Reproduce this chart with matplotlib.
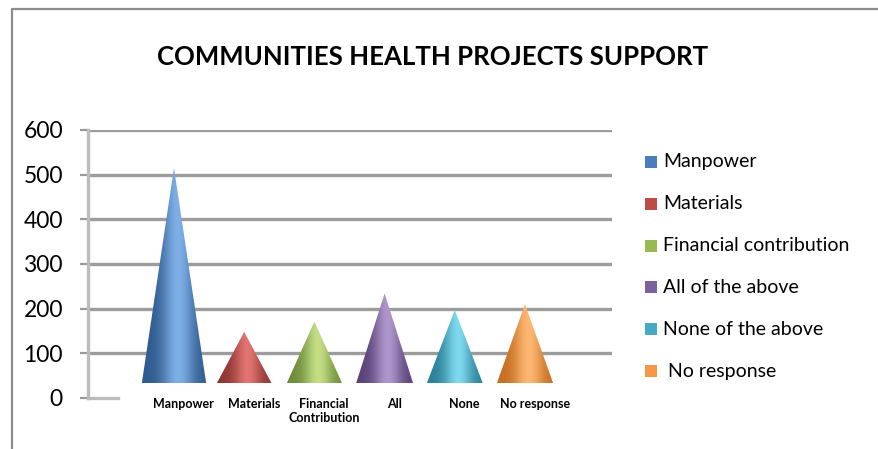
import numpy as np
import matplotlib.pyplot as plt
from matplotlib.patches import Polygon, Rectangle
from matplotlib.lines import Line2D
from matplotlib.colors import to_rgb

# data
categories = ['Manpower', 'Materials', 'Financial\nContribution', 'All', 'None', 'No response']
legend_labels = ['Manpower', 'Materials', 'Financial contribution', 'All of the above',
                 'None of the above', ' No response']
values = [515, 148, 171, 234, 197, 210]
yticks = [0, 100, 200, 300, 400, 500, 600]

# cone shading: (edge colour, highlight colour) and flat legend colour
dark = ['#2E5A8E', '#8E3532', '#6E8C38', '#5A4278', '#2A8098', '#C66E22']
light = ['#7DAEE6', '#E07470', '#C4DE86', '#AE96CC', '#7ED8EE', '#FDB772']
flat = ['#4A7EBB', '#BE4B48', '#98B954', '#7D60A0', '#46AAC5', '#F79646']

FONT = 'Lato'
W, H = 879, 449
fig = plt.figure(figsize=(W / 100, H / 100), dpi=100)

# plot area in pixels: back wall from x=88..612, y=130 (600) .. 398 (0)
left, right, top, bottom = 88, 612, 130, 398
ax = fig.add_axes([left / W, 1 - bottom / H, (right - left) / W, (bottom - top) / H])
step = 70.2
x0 = 174
ax.set_xlim((left - x0) / step, (right - x0) / step)
ax.set_ylim(0, 600)
px_per_unit = (bottom - top) / 600

for s in ['top', 'right', 'bottom']:
    ax.spines[s].set_visible(False)
ax.spines['left'].set_color('#bcbcbc')
ax.spines['left'].set_linewidth(2.4)
ax.set_xticks([])
ax.set_yticks(yticks)
ax.set_yticklabels([str(v) for v in yticks], fontsize=16.5, family=FONT)
ax.tick_params(axis='y', length=6, width=1.6, color='#9a9a9a', pad=12)

for v in yticks[1:]:
    ax.axhline(v, color='#9c9c9c', lw=2.4, zorder=1)
# short floor edge at zero
ax.plot([(left - x0) / step, (118 - x0) / step], [0, 0], color='#bcbcbc', lw=2.4,
        clip_on=False, zorder=1)

# cones, seen slightly from the front so the base sits above the wall's zero
base = (bottom - 383) / px_per_unit
t = np.linspace(-1, 1, 200)
f = np.exp(-((t - 0.12) / 0.5) ** 2)
for i, v in enumerate(values):
    hw = 0.36 + 0.00019 * v
    d, l = np.array(to_rgb(dark[i])), np.array(to_rgb(light[i]))
    img = (d[None, :] * (1 - f[:, None]) + l[None, :] * f[:, None])[None, :, :]
    tri = Polygon([(i - hw, base), (i, v), (i + hw, base)], closed=True,
                  facecolor='none', edgecolor='none')
    ax.add_patch(tri)
    im = ax.imshow(img, extent=[i - hw, i + hw, base, v], aspect='auto',
                   interpolation='bilinear', zorder=3)
    im.set_clip_path(tri)

# category labels under the cones
for i, c in enumerate(categories):
    ax.text(i + 0.14, 1, c, ha='center', va='top', fontsize=9, fontweight='bold',
            family=FONT, linespacing=1.25, clip_on=False)

# legend
for i, lab in enumerate(legend_labels):
    yc = 162 + i * 41.8
    fig.patches.append(Rectangle((645 / W, 1 - (yc + 6) / H), 12 / W, 12 / H,
                                 facecolor=flat[i], edgecolor='none',
                                 transform=fig.transFigure, figure=fig))
    fig.text(663 / W, 1 - yc / H, lab, ha='left', va='center', fontsize=14,
             family=FONT)

fig.text(433 / W, 1 - 57 / H, 'COMMUNITIES HEALTH PROJECTS SUPPORT', ha='center',
         va='center', fontsize=18.5, fontweight='bold', family=FONT)

# outer frame (only left and top edges fall inside the image)
frame = Line2D([12 / W, 12 / W, 1.0], [0.0, 1 - 9 / H, 1 - 9 / H], color='#8c8c8c',
               lw=1.6, transform=fig.transFigure)
fig.lines.append(frame)

fig.savefig('out.png', dpi=100)
